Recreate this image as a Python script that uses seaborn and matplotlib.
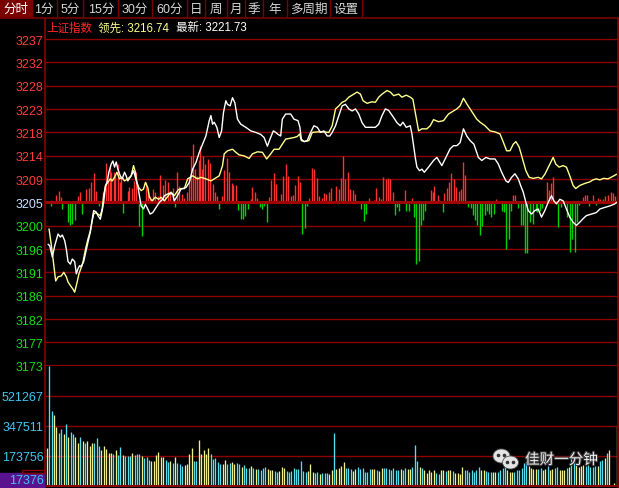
import matplotlib
matplotlib.use('Agg')
import matplotlib.pyplot as plt
import matplotlib.patheffects as pe
from matplotlib.patches import Rectangle, Ellipse
import seaborn as sns

# --- Style -------------------------------------------------------------------
GRID   = '#8c0000'
MIDRED = '#a00000'
TXT_R  = '#ff3c3c'
TXT_G  = '#10e010'
TXT_M  = '#c8e0ff'
TXT_C  = '#40c8f0'
LINE_W = '#ffffff'
LINE_Y = '#ffff8c'
BAR_R  = '#ff3030'
BAR_G  = '#00d200'
VOL_C  = '#54e0ee'
VOL_Y  = '#f2ee8a'
VOL_W  = '#f4f2c8'

# --- Data --------------------------------------------------------------------
tabs = ['分时', '1分', '5分', '15分', '30分', '60分', '日', '周', '月', '季', '年', '多周期', '设置']
index_name = '上证指数'
lead_text = '领先: 3216.74'
last_text = '最新: 3221.73'
watermark = '佳财一分钟'

pre_close = 3205.0
step = 4.571
price_labels = ['3173', '3177', '3182', '3186', '3191', '3196', '3200', '3205',
                '3209', '3214', '3218', '3223', '3228', '3232', '3237']
vol_top = 695022
vol_ticks = [173756, 347511, 521267]
vol_floor_label = '17376'

# minute of session (0..240) and index value, white = index
white_t = [0.5, 1.2, 2.3, 3.3, 4.7, 5.7, 6.5, 7.5, 8.2, 8.9, 9.9, 10.7, 11.7, 12.4, 13.1, 13.8,
           14.5, 15.5, 16.3, 17.3, 18.3, 19.1, 19.7, 20.8, 21.5, 22.5, 23.3, 23.9, 24.7, 25.4,
           26.1, 27.1, 27.8, 28.5, 29.2, 29.9, 30.9, 31.7, 32.7, 33.4, 34.1, 35.5, 36.5, 37.3,
           38.3, 39.0, 39.7, 40.7, 41.5, 42.5, 43.5, 44.6, 46.0, 47.4, 48.8, 49.5, 51.6, 53.0,
           53.7, 55.1, 56.5, 58.6, 60.0, 61.4, 62.8, 64.2, 65.6, 67.0, 68.4, 69.1, 69.8, 70.5,
           71.6, 72.6, 73.6, 74.4, 75.4, 76.1, 77.2, 78.2, 79.2, 80.3, 81.7, 83.8, 85.9, 88.0,
           90.1, 91.5, 92.9, 94.0, 95.4, 96.4, 97.4, 98.5, 99.2, 100.6, 102.7, 104.1, 105.8,
           106.6, 107.2, 108.3, 109.7, 111.1, 112.5, 113.9, 115.3, 116.7, 118.1, 119.2, 120.2,
           121.6, 123.0, 124.4, 125.8, 127.2, 128.6, 130.0, 131.4, 132.8, 134.2, 136.3, 138.4,
           139.8, 141.2, 142.6, 144.0, 146.1, 147.5, 148.9, 150.0, 151.4, 153.1, 153.8, 154.5,
           155.2, 155.9, 157.0, 158.0, 159.0, 160.8, 162.9, 164.3, 166.4, 167.8, 169.9, 171.3,
           172.7, 174.1, 175.5, 176.9, 178.3, 179.9, 181.8, 183.2, 185.0, 186.7, 188.8, 190.2,
           191.6, 193.4, 194.4, 195.8, 197.2, 198.6, 199.6, 200.7, 201.8, 202.8, 204.2, 205.6,
           207.0, 208.4, 209.8, 211.2, 212.6, 213.6, 214.7, 216.1, 217.5, 218.9, 220.3, 221.7,
           223.1, 224.5, 225.9, 227.3, 229.4, 231.5, 233.0, 235.0, 237.2, 239.3, 240.0]
white_p = [3196.8, 3196.5, 3194.3, 3196.5, 3198.8, 3198.2, 3198.6, 3197.5, 3195.8, 3193.4, 3192.9,
           3193.9, 3193.4, 3191.0, 3192.0, 3192.6, 3192.4, 3193.4, 3195.1, 3197.2, 3199.2, 3201.7,
           3203.4, 3203.1, 3202.4, 3201.7, 3203.4, 3205.0, 3208.2, 3209.0, 3210.9, 3212.5, 3213.1,
           3211.9, 3212.9, 3211.5, 3210.2, 3209.6, 3210.9, 3210.2, 3209.2, 3210.2, 3211.2, 3209.9,
           3208.2, 3206.3, 3204.3, 3203.7, 3204.6, 3203.7, 3202.7, 3203.0, 3204.0, 3205.0, 3205.6,
           3206.3, 3206.8, 3206.6, 3205.3, 3206.4, 3207.6, 3207.9, 3208.9, 3211.5, 3212.8, 3214.8,
           3216.4, 3218.0, 3221.0, 3222.0, 3220.3, 3220.7, 3219.7, 3217.7, 3219.0, 3222.6, 3224.9,
           3224.2, 3223.9, 3225.5, 3224.5, 3221.3, 3220.3, 3219.7, 3219.0, 3218.7, 3218.3, 3217.7,
           3216.0, 3217.4, 3219.0, 3218.7, 3218.3, 3218.0, 3221.3, 3222.3, 3222.3, 3221.3, 3221.0,
           3219.7, 3217.4, 3216.9, 3217.1, 3218.7, 3220.0, 3219.7, 3218.7, 3219.0, 3218.0, 3218.0,
           3218.7, 3220.0, 3222.0, 3223.9, 3224.2, 3223.3, 3222.9, 3223.3, 3222.3, 3220.6, 3219.7,
           3219.7, 3219.7, 3220.3, 3222.0, 3223.3, 3223.0, 3221.6, 3220.6, 3220.0, 3220.7, 3219.7,
           3220.0, 3218.4, 3216.1, 3213.8, 3211.9, 3211.2, 3211.5, 3210.9, 3211.9, 3213.2, 3213.8,
           3212.2, 3213.5, 3215.5, 3216.1, 3216.1, 3216.7, 3219.4, 3218.0, 3217.1, 3216.4, 3213.8,
           3213.2, 3213.8, 3213.5, 3213.5, 3212.5, 3210.9, 3209.2, 3208.9, 3209.9, 3210.6, 3209.6,
           3208.3, 3207.0, 3205.0, 3203.4, 3202.7, 3203.4, 3203.7, 3202.1, 3203.4, 3205.0, 3206.3,
           3205.3, 3204.7, 3205.6, 3205.3, 3203.7, 3202.1, 3201.1, 3200.5, 3201.1, 3201.8, 3202.4,
           3202.7, 3203.0, 3203.7, 3204.0, 3204.3, 3204.7, 3205.0]

# yellow = 领先 (leading line)
yellow_t = [0.9, 1.9, 2.6, 3.7, 4.7, 6.1, 7.1, 8.2, 8.9, 9.9, 11.0, 11.7, 12.7, 13.5, 14.5, 15.2,
            16.3, 17.3, 18.3, 19.1, 19.7, 20.5, 21.5, 22.5, 23.3, 23.9, 24.7, 25.7, 26.7, 27.5,
            28.5, 29.5, 30.6, 31.7, 32.7, 34.1, 35.5, 36.5, 37.3, 37.9, 38.7, 39.7, 40.7, 41.5,
            42.5, 43.2, 44.3, 45.7, 47.1, 48.1, 49.5, 50.5, 52.3, 53.7, 55.4, 56.5, 57.9, 59.3,
            61.4, 63.5, 64.9, 67.0, 69.1, 70.5, 72.6, 74.0, 74.7, 76.1, 78.2, 79.6, 81.0, 83.1,
            85.2, 86.6, 88.7, 90.8, 92.6, 94.3, 95.7, 97.8, 99.2, 100.6, 102.0, 104.1, 105.5,
            106.5, 107.2, 108.6, 110.4, 111.8, 113.9, 116.7, 118.8, 120.2, 121.6, 123.0, 124.4,
            125.8, 127.2, 129.3, 130.7, 132.1, 133.2, 134.9, 137.0, 138.4, 139.8, 141.2, 143.3,
            144.7, 146.1, 148.2, 149.6, 151.4, 153.1, 154.2, 155.2, 156.6, 158.0, 160.1, 161.5,
            162.9, 165.0, 167.1, 169.2, 171.3, 172.7, 174.1, 175.5, 176.9, 178.3, 179.7, 181.1,
            182.5, 184.6, 186.7, 188.8, 190.9, 192.3, 193.7, 195.1, 196.5, 197.6, 199.0, 200.4,
            201.8, 203.2, 204.9, 207.0, 208.4, 209.8, 211.9, 213.3, 214.4, 215.8, 217.5, 218.9,
            220.3, 221.7, 222.8, 224.5, 226.6, 228.7, 230.1, 231.5, 232.9, 234.6, 236.4, 238.5,
            240.0]
yellow_p = [3199.8, 3196.5, 3193.9, 3189.6, 3190.4, 3190.6, 3191.3, 3190.4, 3189.4, 3188.7, 3188.0,
            3187.4, 3189.3, 3191.0, 3192.3, 3193.3, 3195.9, 3197.8, 3199.4, 3201.4, 3202.7, 3203.0,
            3202.7, 3202.4, 3203.7, 3206.3, 3208.3, 3208.9, 3209.6, 3209.2, 3209.9, 3210.9, 3209.6,
            3209.9, 3209.2, 3209.6, 3210.2, 3212.2, 3210.9, 3208.9, 3207.9, 3207.3, 3207.6, 3208.9,
            3207.9, 3206.0, 3205.3, 3206.0, 3205.6, 3206.0, 3205.3, 3205.9, 3207.0, 3206.3, 3207.5,
            3207.7, 3207.7, 3209.6, 3210.2, 3209.6, 3209.9, 3209.6, 3209.2, 3209.6, 3210.2, 3212.2,
            3214.5, 3215.1, 3215.4, 3214.8, 3214.3, 3214.1, 3213.6, 3214.5, 3214.9, 3214.8, 3213.5,
            3214.5, 3215.4, 3215.4, 3216.4, 3217.4, 3217.5, 3217.7, 3217.9, 3218.4, 3217.1, 3216.9,
            3217.1, 3218.7, 3218.8, 3218.8, 3218.7, 3220.0, 3223.3, 3223.9, 3224.6, 3224.9, 3225.6,
            3226.2, 3226.6, 3226.2, 3224.9, 3224.4, 3224.7, 3224.6, 3225.6, 3226.2, 3226.9, 3226.6,
            3225.9, 3226.2, 3225.6, 3226.0, 3225.6, 3225.2, 3222.6, 3219.0, 3219.4, 3219.4, 3220.0,
            3221.2, 3220.8, 3221.0, 3222.3, 3222.9, 3223.3, 3223.9, 3225.4, 3224.3, 3223.3, 3222.3,
            3221.3, 3220.7, 3220.0, 3219.0, 3218.8, 3218.4, 3216.8, 3215.1, 3215.1, 3216.4, 3216.9,
            3215.8, 3213.5, 3211.2, 3209.9, 3209.7, 3209.9, 3209.6, 3210.5, 3212.5, 3213.8, 3212.5,
            3211.9, 3212.2, 3211.9, 3210.2, 3208.3, 3207.7, 3208.3, 3208.7, 3209.0, 3209.4, 3209.6,
            3209.4, 3209.7, 3209.6, 3210.1, 3210.5]

# red / green strength bars around the previous close
lead_t = [1.9, 3.7, 4.9, 5.8, 6.5, 8.9, 9.9, 10.7, 11.7, 13.1, 13.9, 14.6, 16.6, 17.7, 18.7, 19.7,
          20.8, 21.8, 23.6, 24.7, 25.7, 26.4, 27.1, 28.1, 28.9, 29.9, 30.6, 31.3, 32.0, 34.1, 34.8,
          35.9, 36.9, 37.6, 38.6, 40.0, 41.8, 42.5, 43.6,
          44.6, 45.6, 46.7, 47.7, 48.8, 49.8, 50.9, 51.9, 53.0, 53.8, 54.7, 55.8, 56.8, 57.9, 58.9,
          60.0,
          60.7, 61.7, 62.5, 63.2, 63.9, 64.6, 65.2, 65.9, 66.7, 67.7, 68.8, 69.8, 70.8, 71.6, 72.6,
          73.7, 74.7, 75.7, 76.8, 77.8, 78.6, 79.6, 80.6, 81.7, 82.5, 83.4, 84.8, 85.9, 86.6, 87.6,
          88.7, 89.7, 90.6, 91.5, 92.6, 93.6, 94.3, 95.7, 96.7, 98.8, 99.6, 100.7, 101.7, 102.7,
          103.7, 104.7, 105.8, 106.6, 107.6, 108.6, 109.4, 110.5, 111.8, 112.6, 113.6, 114.6,
          115.7, 116.7, 117.7, 118.8, 119.8, 121.9, 123.0, 124.0, 124.8, 125.8, 126.8, 127.9,
          128.9, 129.9, 132.5, 133.5, 134.6, 135.6, 138.0, 138.8, 139.9, 140.9, 141.7, 142.7,
          143.7, 144.7, 145.7, 146.7, 147.5, 148.5,
          150.7, 151.4, 152.4, 153.8, 154.5, 155.5, 156.6, 157.6, 158.4, 159.5, 161.8, 162.5,
          163.3, 164.6, 165.4, 166.8, 167.5, 168.5, 169.6, 170.4, 171.4, 172.5, 173.5, 174.5,
          175.5, 176.3, 177.6, 178.6, 179.4, 180.4, 181.4, 182.5, 183.5, 184.5, 185.3, 186.3,
          187.2, 188.4, 189.4, 191.6, 192.6, 193.6, 194.5, 195.5, 196.5, 197.3, 198.6, 199.6,
          200.4, 201.5, 202.3, 203.5, 204.6, 206.0, 206.7, 207.7, 208.5, 210.5, 211.5, 212.6,
          213.3, 215.5, 216.4, 219.3, 220.3, 221.2, 222.3, 223.2, 224.2, 225.7, 226.7, 227.7,
          228.4, 230.1, 231.3, 232.2, 233.2, 234.3, 235.3, 236.4, 237.5, 238.5, 239.3]
lead_v = [-0.8, 1.4, 2.3, 1.0, -1.4, -3.8, -4.4, -4.3, -3.4, 1.3, 2.0, -2.3, 2.7, 2.9, 3.9, 5.7,
          2.3, -0.65, 2.0, 7.7, 3.9, 6.9, 6.0, 5.9, 5.2, 7.5, 3.9, 4.6, -2.1, 2.3, 3.1,
          2.9, 4.1, 5.9, -4.6, -6.5, 3.9, 2.6, 1.3,
          2.6, 2.0, 1.3, 5.3, 3.4, 4.3, 3.9, 2.0, 2.9, -1.0, 5.9, 3.3, 1.6, 0.8, 2.0,
          4.6,
          9.1, 11.4, 6.5, 5.2, 8.2, 11.1, 6.5, 9.1, 7.5, 8.5, 7.8, 3.6, 2.0, 1.3, -1.4,
          1.3, 6.4, 8.6, 6.0, 3.8, 3.4, 3.4, -1.5, -3.3, -3.3, -2.6, -1.3, 0.65, 3.1, 2.0,
          0.8, -1.0, -1.4, -0.65, -3.8, 1.0, 4.3, 5.7, 3.6, 1.6, 5.2, 7.5, 5.2, 1.3,
          1.4, 3.4, 5.1, 3.9, -6.2, -5.1, -0.65, 0.8, 6.7, 6.5, 4.7, 1.3,
          0.8, 1.8, 1.6, 2.0, 2.9, 3.3, 2.7, 4.7, 9.0, 4.6, 5.9, 2.7,
          2.5, 1.6, -1.3, -3.6, -2.3, 0.8, 0.5, 2.9, 1.0, 0.65, 4.9, 4.6,
          4.7, 4.6, 2.0, -2.5, -1.0, -1.6,
          2.5, -1.6, -1.6, 0.9, -2.9, -12.0, -11.5, -4.5, -3.5, -1.6, 2.5, 2.0,
          3.2, 1.5, 0.4, -1.9, 1.9, 2.8, 3.9, 5.8, 4.6, 3.0, 2.2, 2.7,
          7.9, 5.4, -0.9, -1.1, -2.5, -3.5, -4.5, -6.3, -4.6, -2.4, -1.6, -2.2,
          -2.9, -2.2, 0.7, -1.6, -1.9, -9.1, -7.1, -1.6, 1.5, 1.5, -1.2, -4.4,
          -4.5, -10.0, -10.0, -3.9, -4.2, -1.6, -1.8, -1.6, -1.2, 3.9, 2.4, 3.7,
          5.0, -4.8, -0.9, -2.9, -9.7, -7.1, -9.7, -3.9, -0.6, 1.0, 1.5, 1.5,
          -0.7, 1.5, -0.6, 0.8, 0.7, 0.7, 1.2, 1.5, 2.0, 1.9, 1.2]

# per-minute volume (241 minutes) and bar colour: C = cyan, Y = yellow, W = close
vol = [218000, 695000, 434000, 409000, 340000, 305000, 328000, 299000, 357000, 282000,
       311000, 299000, 282000, 247000, 282000, 259000, 247000, 259000, 230000, 247000,
       247000, 276000, 230000, 207000, 230000, 213000, 189000, 189000, 184000, 207000,
       178000, 224000, 178000, 172000, 172000, 172000, 189000, 178000, 184000, 184000,
       172000, 160000, 166000, 149000, 143000, 143000, 178000, 195000, 166000, 166000,
       149000, 137000, 143000, 131000, 166000, 131000, 126000, 114000, 120000, 126000,
       184000, 218000, 143000, 143000, 265000, 184000, 207000, 184000, 218000, 184000,
       155000, 160000, 137000, 126000, 126000, 149000, 126000, 131000, 137000, 126000,
       131000, 123000, 108000, 120000, 103000, 103000, 114000, 103000, 97000, 97000,
       91000, 103000, 108000, 97000, 91000, 91000, 85000, 79000, 85000, 108000,
       103000, 85000, 79000, 85000, 103000, 97000, 97000, 143000, 85000, 79000,
       85000, 126000, 79000, 74000, 79000, 68000, 74000, 74000, 74000, 68000,
       91000, 305000, 97000, 103000, 114000, 137000, 103000, 103000, 97000, 85000,
       97000, 108000, 97000, 103000, 79000, 79000, 97000, 97000, 97000, 91000,
       85000, 100000, 100000, 100000, 95000, 89000, 103000, 89000, 89000, 97000,
       93000, 103000, 97000, 97000, 108000, 237000, 141000, 108000, 103000, 89000,
       74000, 93000, 77000, 89000, 74000, 70000, 89000, 93000, 83000, 89000,
       93000, 83000, 74000, 74000, 70000, 108000, 89000, 89000, 77000, 89000,
       77000, 93000, 108000, 89000, 89000, 83000, 77000, 77000, 77000, 77000,
       77000, 89000, 103000, 122000, 89000, 77000, 77000, 77000, 89000, 93000,
       103000, 131000, 141000, 112000, 103000, 97000, 97000, 97000, 103000, 89000,
       97000, 112000, 89000, 97000, 103000, 108000, 93000, 93000, 89000, 103000,
       108000, 189000, 160000, 131000, 108000, 116000, 122000, 112000, 122000, 108000,
       108000, 116000, 116000, 141000, 151000, 160000, 189000, 209000, 0, 16000,
       344000]
vol_dir = list('YCCYYCCYCY' 'CCYYCYCYYY' 'CCCYYYYYCY' 'CCYCCCYCCC' 'YCCCYYYYYY'
               'CCYCYCCCYY' 'YYCCYYYYYC' 'CCCCYYCCYY' 'CCYCCCYCYC' 'CCCYYYCCYY'
               'YCCCCCCCCC' 'YYYCCYCCCY' 'YCYYYYCCCY' 'YCCCCCCYYC' 'YYCCCCCCCY'
               'CCYYCCCYCY' 'YYYYCCYYCY' 'YCYYYYCCCC' 'CCCYYCCCYY' 'CCCCYYYCCC'
               'CCCYYYYCCY' 'YCYYCCYYYC' 'YCCYYYYCCC' 'CCYCCYCYYY' 'W')

# --- Figure ------------------------------------------------------------------
sns.set_theme(style='dark', rc={'axes.facecolor': 'black', 'figure.facecolor': 'black'})
plt.rcParams['font.family'] = ['Liberation Sans', 'Noto Sans CJK SC', 'DejaVu Sans']

W, H = 619, 489
fig = plt.figure(figsize=(W / 100, H / 100), dpi=100)
fig.patch.set_facecolor('black')


def box(x0, y0, x1, y1):
    return [x0 / W, 1 - y1 / H, (x1 - x0) / W, (y1 - y0) / H]


ax = fig.add_axes(box(45, 40, 617, 366.7))
axv = fig.add_axes(box(45, 366.7, 617, 486.7))
ov = fig.add_axes([0, 0, 1, 1])
ov.set_xlim(0, W)
ov.set_ylim(H, 0)
ov.axis('off')

x_lim = (-0.8, 240.2)

# --- price panel -------------------------------------------------------------
levels = [pre_close + (k - 7) * step for k in range(len(price_labels))]
ax.set_facecolor('black')
ax.set_xlim(*x_lim)
ax.set_ylim(levels[0], levels[-1])
ax.set_xticks([])
ax.set_yticks(levels)
ax.set_yticklabels(price_labels, fontsize=9)
ax.tick_params(axis='y', length=0, pad=1)
for lab, lvl in zip(ax.get_yticklabels(), levels):
    if abs(lvl - pre_close) < 0.01:
        lab.set_color(TXT_M)
    elif lvl > pre_close:
        lab.set_color(TXT_R)
    else:
        lab.set_color(TXT_G)
ax.grid(False)
for lvl in levels:
    ax.axhline(lvl, color=GRID, lw=1.0, zorder=1, clip_on=False)
for s in ax.spines.values():
    s.set_visible(False)

bar_cols = [BAR_R if v > 0 else BAR_G for v in lead_v]
ax.vlines(lead_t, pre_close, [pre_close + v for v in lead_v], colors=bar_cols, lw=1.0, zorder=2)
ax.axhline(pre_close, color=MIDRED, lw=2.2, zorder=3)
ax.axhline(levels[0], color=GRID, lw=1.6, zorder=3, clip_on=False)

sns.lineplot(x=yellow_t, y=yellow_p, ax=ax, color=LINE_Y, linewidth=1.0,
             estimator=None, sort=False, zorder=4)
sns.lineplot(x=white_t, y=white_p, ax=ax, color=LINE_W, linewidth=1.0,
             estimator=None, sort=False, zorder=5)
ax.set_xlabel('')
ax.set_ylabel('')

# --- volume panel ------------------------------------------------------------
dir_col = {'C': VOL_C, 'Y': VOL_Y, 'W': VOL_W}
minutes = list(range(len(vol)))
axv.set_facecolor('black')
axv.set_xlim(*x_lim)
axv.set_ylim(0, vol_top)
axv.set_xticks([])
axv.set_yticks(vol_ticks)
axv.set_yticklabels([str(v) for v in vol_ticks], fontsize=9, color=TXT_C)
axv.tick_params(axis='y', length=0, pad=1)
axv.grid(False)
for v in vol_ticks:
    axv.axhline(v, color=GRID, lw=1.0, zorder=1)
axv.axhline(0, color=GRID, lw=1.4, zorder=3, clip_on=False)
for s in axv.spines.values():
    s.set_visible(False)
axv.vlines(minutes, 0, vol, colors=[dir_col[d] for d in vol_dir], lw=0.95, zorder=2)

# --- frame, tabs, header -----------------------------------------------------
tab_edges = [0, 31.7, 56.7, 83.3, 118.3, 151.7, 186.7, 205, 226.7, 245, 263.3, 286.7, 330, 361.7]
ov.add_patch(Rectangle((0, 0), tab_edges[1], 18, color='#7a0000', zorder=1))
for i, t in enumerate(tabs):
    cx = (tab_edges[i] + tab_edges[i + 1]) / 2
    ov.text(cx, 9.5, t, ha='center', va='center', fontsize=9,
            color='#ffffff' if i == 0 else '#d6d6d6', zorder=3)
ov.vlines(tab_edges[1:], 0, 18, color='#7a0000', lw=1.0, zorder=2)
ov.hlines(18.5, 0, W, color='#7a0000', lw=1.2, zorder=2)
ov.vlines([45, 617.5], 18.5, H, color=GRID, lw=1.2, zorder=2)

ov.text(46, 28.5, index_name, ha='left', va='center', fontsize=8.3, color='#ff2828')
ov.text(97.5, 28.5, lead_text, ha='left', va='center', fontsize=8.3, color=LINE_Y)
ov.text(176.5, 28.5, last_text, ha='left', va='center', fontsize=8.3, color='#ffffff')

# bottom-left value box
ov.add_patch(Rectangle((0, 473.5), 44, 16, color='#5a128f', zorder=2))
ov.add_patch(Rectangle((22, 470.8), 23, 3, fill=False, ec='#8c0000', lw=1.0, zorder=3))
ov.text(43.5, 481.5, vol_floor_label, ha='right', va='center', fontsize=9, color=TXT_C, zorder=4)

# watermark
for (cx, cy, w, h) in [(501.5, 457.0, 17, 14), (510.5, 463.5, 16, 13)]:
    ov.add_patch(Ellipse((cx, cy), w, h, fc='#e4e4e4', ec='#555555', lw=0.6, zorder=6))
ov.scatter([497.5, 503.5, 507.0, 513.0], [455.5, 455.5, 462.5, 462.5], s=2.5,
           color='#333333', zorder=7)
ov.text(525, 461, watermark, ha='left', va='center', fontsize=10.5, color='#eeeeee', zorder=8,
        path_effects=[pe.withStroke(linewidth=1.6, foreground='#3a3a3a')])

fig.savefig('out.png', dpi=100, facecolor='black')
